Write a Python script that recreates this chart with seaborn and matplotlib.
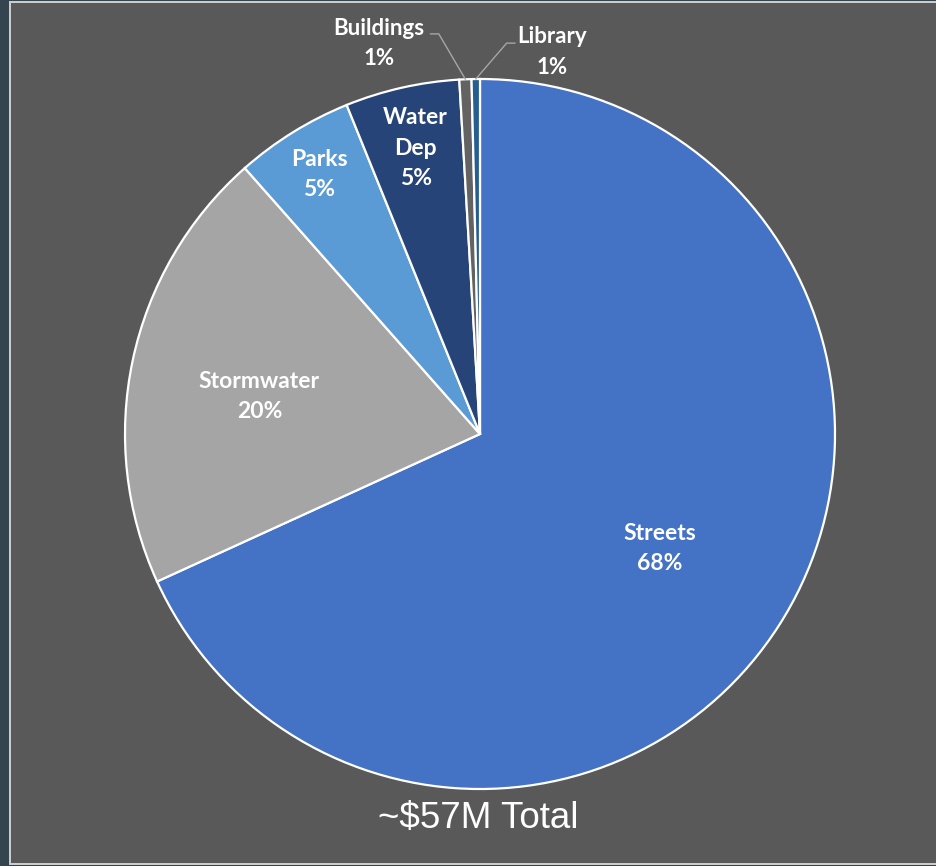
import numpy as np
import matplotlib
matplotlib.use("Agg")
import matplotlib.pyplot as plt
import seaborn as sns
from matplotlib.patches import Rectangle

sns.set_theme(style="white")
plt.rcParams['font.family'] = ['Lato', 'DejaVu Sans']

# ---- data ----
categories = ["Streets", "Stormwater", "Parks", "Water Dep", "Buildings", "Library"]
label_names = ["Streets", "Stormwater", "Parks", "Water\nDep", "Buildings", "Library"]
values = [68.2, 20.3, 5.4, 5.2, 0.55, 0.38]
pct_labels = ["68%", "20%", "5%", "5%", "1%", "1%"]
colors = ["#4472C4", "#A5A5A5", "#5B9BD5", "#264478", "#636363", "#255E91"]
title_text = "~$57M Total"

W, H = 937, 866
fig = plt.figure(figsize=(W / 100, H / 100), dpi=100)
fig.patch.set_facecolor("#34454F")

# inner panel
panel = Rectangle((10 / W, 2 / H), (W - 8) / W, (H - 3.5) / H, transform=fig.transFigure,
                  facecolor="#595959", edgecolor="#D0D0D0", linewidth=1.4, zorder=-10)
fig.patches.append(panel)

cx, cy, R = 480, 866 - 434, 355
ax = fig.add_axes([(cx - R) / W, (cy - R) / H, 2 * R / W, 2 * R / H])
ax.set_zorder(1)
ax.set_facecolor("none")
ax.axis("off")

wedges, _ = ax.pie(values, colors=colors, startangle=90, counterclock=False, radius=1.0,
                   wedgeprops=dict(edgecolor="white", linewidth=1.6))
ax.set_xlim(-1, 1)
ax.set_ylim(-1, 1)
ax.set_aspect("equal")

inside_dist = [0.6, 0.63, 0.86, 0.825]
inside_dang = [0.3, 2.4, 0.0, 0.0]
fs = 16.5
ls = 1.55
for i in range(4):
    w = wedges[i]
    ang = np.deg2rad((w.theta1 + w.theta2) / 2 + inside_dang[i])
    d = inside_dist[i]
    ax.text(d * np.cos(ang), d * np.sin(ang), f"{label_names[i]}\n{pct_labels[i]}",
            ha="center", va="center", color="white", fontsize=fs, fontweight="bold",
            linespacing=ls)

# outside labels with leader lines
out_pos = {4: (-0.285, 1.10), 5: (0.203, 1.076)}
elbow = {4: (-0.14, 1.127), 5: (0.099, 1.101)}
for i, (tx, ty) in out_pos.items():
    w = wedges[i]
    ang = np.deg2rad((w.theta1 + w.theta2) / 2)
    px, py = np.cos(ang), np.sin(ang)
    ex, ey = elbow[i]
    ex2 = ex + (0.024 if i == 4 else -0.024)
    ax.plot([ex, ex2, px], [ey, ey, py], color="#A6A6A6", lw=1.0, clip_on=False)
    ax.text(tx, ty, f"{label_names[i]}\n{pct_labels[i]}", ha="center", va="center",
            color="white", fontsize=fs - 0.5, fontweight="bold", linespacing=ls,
            clip_on=False)

fig.text(478 / W, 1 - 818 / H, title_text, ha="center", va="center", color="white",
         fontsize=26.5, family=["Liberation Sans", "DejaVu Sans"])

fig.savefig("out.png", dpi=100, facecolor=fig.get_facecolor())
